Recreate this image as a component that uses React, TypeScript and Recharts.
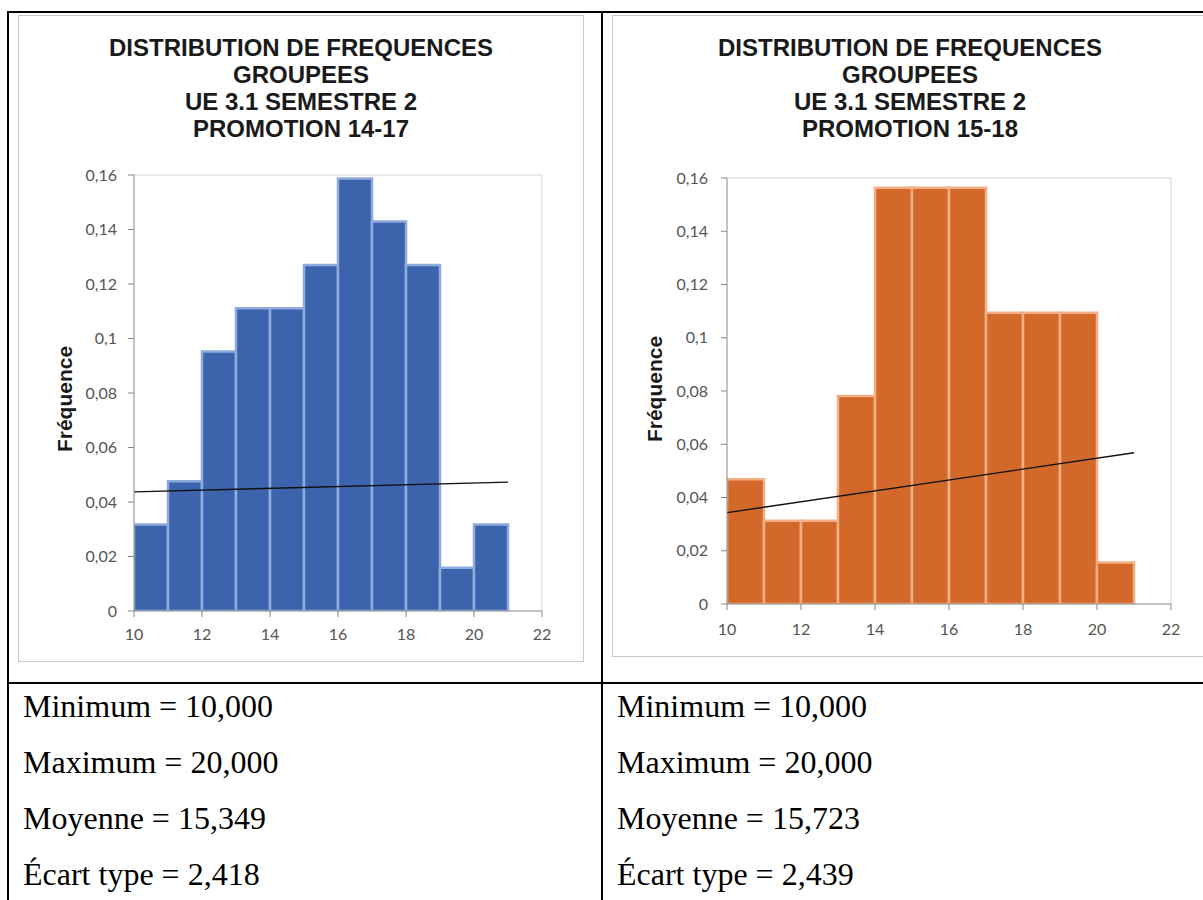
import React from 'react';
import { ComposedChart, Bar, Line, XAxis, YAxis, ReferenceLine } from 'recharts';

// classes de notes (borne basse de chaque intervalle de largeur 1)
const binStarts = [10, 11, 12, 13, 14, 15, 16, 17, 18, 19, 20];
const freq1417 = [0.0317, 0.0476, 0.0952, 0.1111, 0.1111, 0.127, 0.1587, 0.1429, 0.127, 0.0159, 0.0317];
const freq1518 = [0.0469, 0.0313, 0.0313, 0.0781, 0.1563, 0.1563, 0.1563, 0.1094, 0.1094, 0.1094, 0.0156];

// courbes de tendance (extrémités)
const trendX = [10, 21];
const trend1417 = [0.0437, 0.0473];
const trend1518 = [0.0343, 0.0568];

const xTicks = [10, 12, 14, 16, 18, 20, 22];
const yTicks = [0, 0.02, 0.04, 0.06, 0.08, 0.1, 0.12, 0.14, 0.16];

const titleLines = ['DISTRIBUTION DE FREQUENCES', 'GROUPEES', 'UE 3.1 SEMESTRE 2'];
const stats1417 = ['Minimum = 10,000', 'Maximum = 20,000', 'Moyenne = 15,349', 'Écart type = 2,418'];
const stats1518 = ['Minimum = 10,000', 'Maximum = 20,000', 'Moyenne = 15,723', 'Écart type = 2,439'];

const fmt = (v: number) => String(v).replace('.', ',');
const tickStyle = { fontSize: 16, fill: '#555', fontFamily: 'Lato, sans-serif' };

interface HistProps {
  promo: string;
  freqs: number[];
  trend: number[];
  fill: string;
  stroke: string;
  frame: { left: number; top: number; width: number; height: number };
  plot: { left: number; top: number; width: number; height: number };
  label: { x: number; y: number };
  xTickMargin: number;
  yTickMargin: number;
}

const Histogram = ({ promo, freqs, trend, fill, stroke, frame, plot, label, xTickMargin, yTickMargin }: HistProps) => {
  const data = binStarts.map((s, i) => ({ mid: s + 0.5, freq: freqs[i] }));
  const trendData = trendX.map((x, i) => ({ mid: x, trend: trend[i] }));
  const xDomain = [xTicks[0], xTicks[xTicks.length - 1]];
  const yAxisW = 60;
  const xAxisH = 30;
  const margin = {
    top: plot.top,
    left: plot.left - yAxisW,
    right: frame.width - plot.left - plot.width,
    bottom: frame.height - plot.top - plot.height - xAxisH,
  };

  return (
    <div style={{ position: 'absolute', left: frame.left, top: frame.top, width: frame.width, height: frame.height }}>
      <div style={{ position: 'absolute', inset: 0, border: '1px solid #c9c9c9', boxSizing: 'border-box' }} />
      <div
        style={{
          position: 'absolute', left: 0, width: frame.width, top: 19, textAlign: 'center',
          fontFamily: '"Liberation Sans", Arial, sans-serif', fontWeight: 'bold', fontSize: 24, lineHeight: '27px', color: '#1a1a1a',
        }}
      >
        {titleLines.map(t => <div key={t}>{t}</div>)}
        <div>{promo}</div>
      </div>
      <div
        style={{
          position: 'absolute', left: label.x, top: label.y, transform: 'translate(-50%, -50%) rotate(-90deg)',
          fontFamily: '"Liberation Sans", Arial, sans-serif', fontWeight: 'bold', fontSize: 21, color: '#1a1a1a', whiteSpace: 'nowrap',
        }}
      >
        Fréquence
      </div>
      <div style={{ position: 'absolute', left: 0, top: 0 }}>
        <ComposedChart width={frame.width} height={frame.height} data={data} margin={margin} barGap={0} barCategoryGap={0}>
          <XAxis
            type="number"
            dataKey="mid"
            domain={xDomain}
            ticks={xTicks}
            interval={0}
            allowDataOverflow
            height={xAxisH}
            tick={tickStyle}
            tickSize={6}
            tickMargin={xTickMargin}
            axisLine={{ stroke: '#868686' }}
            tickLine={{ stroke: '#868686' }}
          />
          {/* axe caché pour la tendance, pour ne pas fausser la largeur des barres */}
          <XAxis xAxisId="trend" type="number" dataKey="mid" domain={xDomain} allowDataOverflow hide />
          <YAxis
            type="number"
            domain={[0, 0.16]}
            ticks={yTicks}
            interval={0}
            allowDataOverflow
            width={yAxisW}
            tick={tickStyle}
            tickFormatter={fmt}
            tickSize={6}
            tickMargin={yTickMargin}
            axisLine={{ stroke: '#868686' }}
            tickLine={{ stroke: '#868686' }}
          />
          <ReferenceLine y={0.16} stroke="#d4d4d4" strokeWidth={1} />
          <ReferenceLine x={22} stroke="#d4d4d4" strokeWidth={1} />
          <Bar dataKey="freq" fill={fill} stroke={stroke} strokeWidth={2.5} isAnimationActive={false} />
          <Line
            xAxisId="trend"
            data={trendData}
            dataKey="trend"
            stroke="#111"
            strokeWidth={1.4}
            dot={false}
            activeDot={false}
            isAnimationActive={false}
          />
        </ComposedChart>
      </div>
    </div>
  );
};

const StatsCell = ({ left, lines }: { left: number; lines: string[] }) => (
  <div
    style={{
      position: 'absolute', left, top: 678, fontFamily: '"Liberation Serif", "Times New Roman", serif',
      fontSize: 32, lineHeight: '56px', color: '#000', whiteSpace: 'nowrap',
    }}
  >
    {lines.map(l => <div key={l}>{l}</div>)}
  </div>
);

export default function App() {
  return (
    <div style={{ position: 'fixed', left: 0, top: 0, width: 1203, height: 900, overflow: 'hidden', background: '#fff' }}>
      {/* traits du tableau */}
      <div style={{ position: 'absolute', left: 7, top: 11, width: 1200, height: 2, background: '#000' }} />
      <div style={{ position: 'absolute', left: 7, top: 11, width: 2, height: 900, background: '#000' }} />
      <div style={{ position: 'absolute', left: 601, top: 11, width: 2, height: 900, background: '#000' }} />
      <div style={{ position: 'absolute', left: 7, top: 682, width: 1200, height: 2, background: '#000' }} />

      <Histogram
        promo="PROMOTION 14-17"
        freqs={freq1417}
        trend={trend1417}
        fill="#3b64ad"
        stroke="#8faadc"
        frame={{ left: 18, top: 15, width: 566, height: 647 }}
        plot={{ left: 116, top: 160, width: 408, height: 436 }}
        label={{ x: 47, y: 384 }}
        xTickMargin={12}
        yTickMargin={11}
      />
      <Histogram
        promo="PROMOTION 15-18"
        freqs={freq1518}
        trend={trend1518}
        fill="#d2692a"
        stroke="#f4ae85"
        frame={{ left: 612, top: 15, width: 596, height: 642 }}
        plot={{ left: 115, top: 163, width: 444, height: 426 }}
        label={{ x: 43, y: 374 }}
        xTickMargin={14}
        yTickMargin={13}
      />

      <StatsCell left={23} lines={stats1417} />
      <StatsCell left={617} lines={stats1518} />
    </div>
  );
}
